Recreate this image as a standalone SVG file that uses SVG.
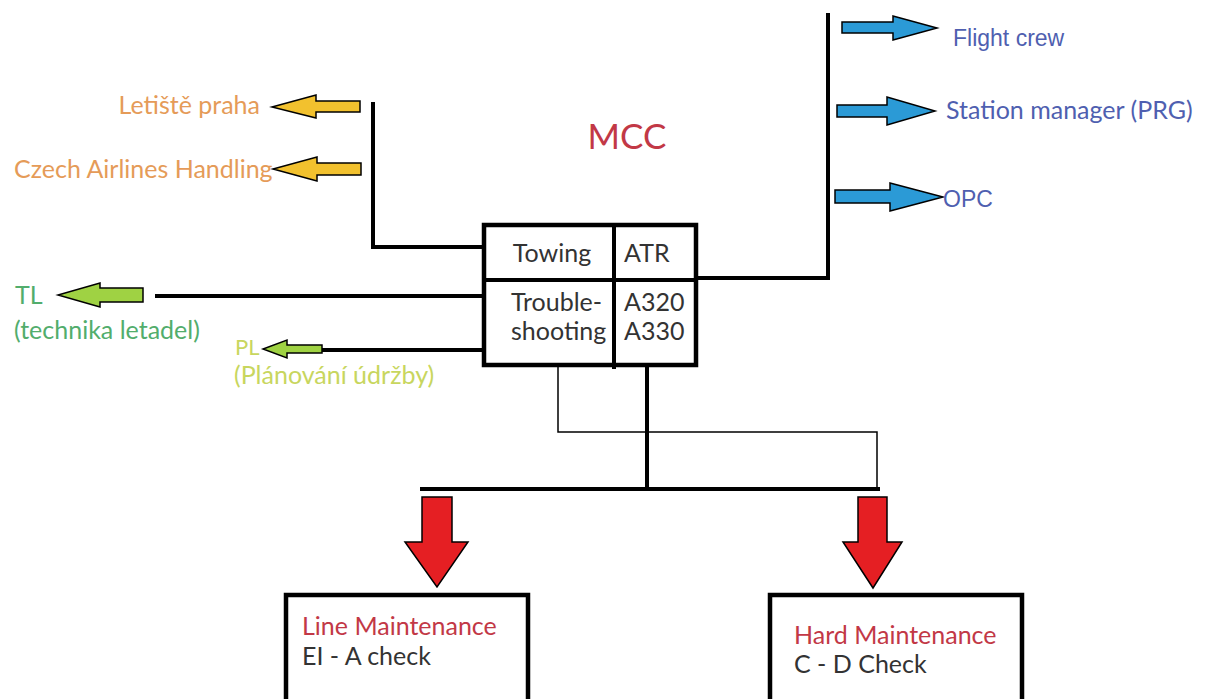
<svg xmlns="http://www.w3.org/2000/svg" width="1208" height="699" viewBox="0 0 1208 699">
<style>
.ln{stroke:#000;stroke-width:4;fill:none}
.thin{stroke:#000;stroke-width:1.5;fill:none}
.box{fill:#fff;stroke:#000;stroke-width:4.5}
.arr{stroke:#000;stroke-width:1.5;stroke-linejoin:miter}
.y{fill:#f2c12e}.g{fill:#9fd243}.b{fill:#2b9ad6}.r{fill:#e51f23}
.t{font-family:Lato,"Open Sans",sans-serif;font-size:25px}
.a{font-family:"Liberation Sans",Arial,sans-serif;font-size:23px;fill:#4f5fb0}
.dk{fill:#333}
.or{fill:#e59b58}
.gr{fill:#52ad6c}
.yg{fill:#c8d65e}
.rd{fill:#c23846}
</style>
<rect width="1208" height="699" fill="#fff"/>
<g id="connectors">
<polyline class="ln" points="373,102 373,247 484,247"/>
<line class="ln" x1="155" y1="296" x2="484" y2="296"/>
<line class="ln" x1="322" y1="350" x2="484" y2="350"/>
<line class="ln" x1="696" y1="278" x2="829" y2="278"/>
<line class="ln" x1="828" y1="13" x2="828" y2="280"/>
<polyline class="thin" points="558,367 558,432 877,432 877,489"/>
<line class="ln" x1="647" y1="365" x2="647" y2="489"/>
<line class="ln" x1="420" y1="489" x2="880" y2="489"/>
<polygon class="arr y" points="360,101 316,101 316,95 272,107 316,118 316,112 360,112"/>
<polygon class="arr y" points="361,163 317,163 317,157 273,169 317,181 317,175 361,175"/>
<polygon class="arr g" points="143,288 100,288 100,283 58,295 100,307 100,302 143,302"/>
<polygon class="arr g" points="322,345 287,345 287,340 263,349 287,358 287,353 322,353"/>
<polygon class="arr b" points="842,22 893,22 893,16 937,28 893,40 893,33 842,33"/>
<polygon class="arr b" points="837,105 887,105 887,97 935,111 887,125 887,117 837,117"/>
<polygon class="arr b" points="835,190 890,190 890,183 943,197 890,211 890,203 835,203"/>
<polygon class="arr r" points="422,497 452,497 452,542 468,542 437,587 405,542 422,542"/>
<polygon class="arr r" points="858,497 887,497 887,542 902,542 873,588 843,542 858,542"/>
</g>
<g id="mcc-title"><text class="t rd" x="627" y="149" text-anchor="middle" style="font-size:35px">MCC</text></g>
<g id="mcc-box">
<rect class="box" x="484" y="225" width="212" height="140"/>
<line class="ln" x1="614" y1="223" x2="614" y2="369"/>
<line class="ln" x1="484" y1="280" x2="696" y2="280"/>
<text class="t dk" x="552" y="262" text-anchor="middle">Towing</text>
<text class="t dk" x="624" y="262">ATR</text>
<text class="t dk" x="511" y="311">Trouble-</text>
<text class="t dk" x="511" y="340">shooting</text>
<text class="t dk" x="624" y="311">A320</text>
<text class="t dk" x="624" y="340">A330</text>
</g>
<g id="letiste"><text class="t or" x="260" y="114" text-anchor="end">Letiště praha</text></g>
<g id="csa-handling"><text class="t or" x="14" y="178">Czech Airlines Handling</text></g>
<g id="tl"><text class="t gr" x="15" y="304">TL</text><text class="t gr" x="14" y="339">(technika letadel)</text></g>
<g id="pl"><text class="t yg" x="235" y="355" style="font-size:22px">PL</text><text class="t yg" x="234" y="384">(Plánování údržby)</text></g>
<g id="flight-crew"><text class="a" x="953" y="46">Flight crew</text></g>
<g id="station-manager"><text class="t" x="946" y="119" style="fill:#4f5fb0">Station manager (PRG)</text></g>
<g id="opc"><text class="a" x="943" y="207">OPC</text></g>
<g id="line-maintenance">
<rect class="box" x="286" y="595" width="242" height="120"/>
<text class="t rd" x="302" y="635">Line Maintenance</text>
<text class="t dk" x="302" y="665">EI - A check</text>
</g>
<g id="hard-maintenance">
<rect class="box" x="770" y="595" width="252" height="120"/>
<text class="t rd" x="794" y="644">Hard Maintenance</text>
<text class="t dk" x="794" y="673">C - D Check</text>
</g>
</svg>
